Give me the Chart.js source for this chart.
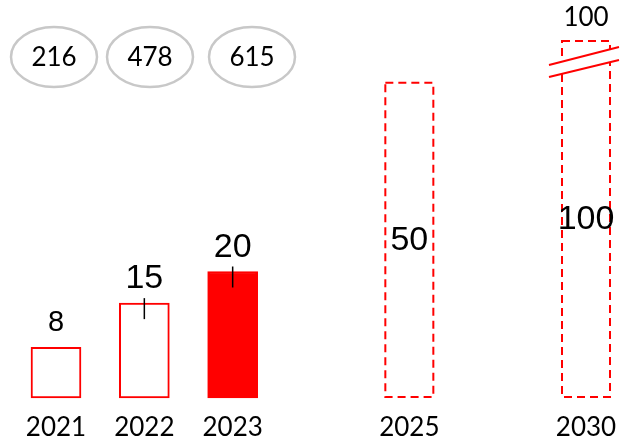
<!DOCTYPE html>
<html>
<head>
<meta charset="utf-8">
<script src="https://cdn.jsdelivr.net/npm/chart.js@4/dist/chart.umd.min.js"></script>
<style>
  html, body { margin: 0; padding: 0; background: #fff; }
  #wrap { width: 620px; height: 443px; position: relative; }
</style>
</head>
<body>
<div id="wrap"><canvas id="chart"></canvas></div>
<script>
// ── Data ───────────────────────────────────────────────────────────────────
const years       = ['2021', '2022', '2023', '', '2025', '', '2030'];
const values      = [8, 15, 20, null, 50, null, 100];
const badgeValues = [216, 478, 615];

// ── Styling ────────────────────────────────────────────────────────────────
const RED        = '#ff0000';
const FILLED_IDX = 2;          // 2023 is the solid bar
const DASHED_IDX = [4, 6];     // targets drawn dashed
const TICK_IDX   = [1, 2];     // small black marks on top of bars
const Y_MAX      = 56.6;       // axis is cut; 2030 bar runs off the top

const arialFont = '"Liberation Sans", Arial, sans-serif';
const calFont   = '"Lato", "Open Sans", sans-serif';

// Decorations: ellipses, value labels, dashed targets, axis break
const decorPlugin = {
  id: 'decor',
  afterDatasetsDraw(chart) {
    const { ctx, chartArea } = chart;
    const meta = chart.getDatasetMeta(0);
    ctx.save();

    // dashed target bars
    DASHED_IDX.forEach(i => {
      const el = meta.data[i];
      if (!el) return;
      const half = el.width / 2;
      const top = Math.max(el.y, chartArea.top);
      ctx.setLineDash([8, 5]);
      ctx.lineWidth = 2;
      ctx.strokeStyle = RED;
      ctx.strokeRect(el.x - half + 1, top + 1, el.width - 2, el.base - top - 2);
      ctx.setLineDash([]);
    });

    // axis break on the 2030 bar
    const last = meta.data[6];
    if (last && last.y < chartArea.top) {
      const x0 = last.x - 37, x1 = last.x + 33, t = chartArea.top;
      ctx.fillStyle = '#fff';
      ctx.beginPath();
      ctx.moveTo(x0, t + 25); ctx.lineTo(x1, t + 7);
      ctx.lineTo(x1, t + 20); ctx.lineTo(x0, t + 37);
      ctx.closePath(); ctx.fill();
      ctx.strokeStyle = RED;
      ctx.lineWidth = 2;
      ctx.beginPath();
      ctx.moveTo(x0, t + 25); ctx.lineTo(x1, t + 7);
      ctx.moveTo(x0, t + 37); ctx.lineTo(x1, t + 20);
      ctx.stroke();
    }

    // small black marks
    ctx.strokeStyle = '#000';
    ctx.lineWidth = 1.5;
    TICK_IDX.forEach(i => {
      const el = meta.data[i];
      ctx.beginPath();
      ctx.moveTo(el.x, el.y - 5);
      ctx.lineTo(el.x, el.y + 16);
      ctx.stroke();
    });

    // value labels
    ctx.fillStyle = '#000';
    ctx.textAlign = 'center';
    ctx.textBaseline = 'middle';
    values.forEach((v, i) => {
      if (v == null) return;
      const el = meta.data[i];
      if (DASHED_IDX.includes(i)) {
        const top = Math.max(el.y, chartArea.top);
        ctx.font = '34px ' + arialFont;
        ctx.fillText(String(v), el.x, (top + el.base) / 2 + 1);
        if (el.y < chartArea.top) {
          ctx.font = '26px ' + calFont;
          ctx.fillText(String(v), el.x, chartArea.top - 22);
        }
      } else {
        ctx.font = (i === 0 ? '29px ' : '34px ') + arialFont;
        ctx.fillText(String(v), el.x, el.y - 24);
      }
    });

    // grey ellipses with totals
    const cx = [54, 150, 252];
    badgeValues.forEach((v, i) => {
      ctx.strokeStyle = '#c8c8c8';
      ctx.lineWidth = 2.5;
      ctx.beginPath();
      ctx.ellipse(cx[i], 57, 43, 30, 0, 0, Math.PI * 2);
      ctx.stroke();
      ctx.fillStyle = '#000';
      ctx.font = '26px ' + calFont;
      ctx.fillText(String(v), cx[i], 58);
    });

    ctx.restore();
  },
};

new Chart(document.getElementById('chart'), {
  type: 'bar',
  data: {
    labels: years,
    datasets: [{
      data: values,
      barThickness: 50,
      borderWidth: ctx => DASHED_IDX.includes(ctx.dataIndex) ? 0 : 2,
      borderColor: RED,
      borderSkipped: false,
      backgroundColor: ctx =>
        ctx.dataIndex === FILLED_IDX ? RED :
        DASHED_IDX.includes(ctx.dataIndex) ? 'rgba(0,0,0,0)' : '#fff',
      clip: { left: false, right: false, top: 0, bottom: false },
    }],
  },
  options: {
    responsive: true,
    maintainAspectRatio: false,
    animation: false,
    layout: { padding: { left: 56, right: 34, top: 40, bottom: 0 } },
    plugins: {
      legend: { display: false },
      tooltip: { enabled: false },
    },
    scales: {
      x: {
        offset: false,
        grid: { display: false, drawTicks: false },
        border: { display: false },
        afterFit: s => {
          s.height = 45;
          s.paddingLeft = 0;
          s.paddingRight = 0;
        },
        ticks: {
          padding: 14,
          color: '#000',
          maxRotation: 0,
          autoSkip: false,
          font: { family: 'Lato', size: 26 },
        },
      },
      y: { display: false, min: 0, max: Y_MAX },
    },
  },
  plugins: [decorPlugin],
});
</script>
</body>
</html>
